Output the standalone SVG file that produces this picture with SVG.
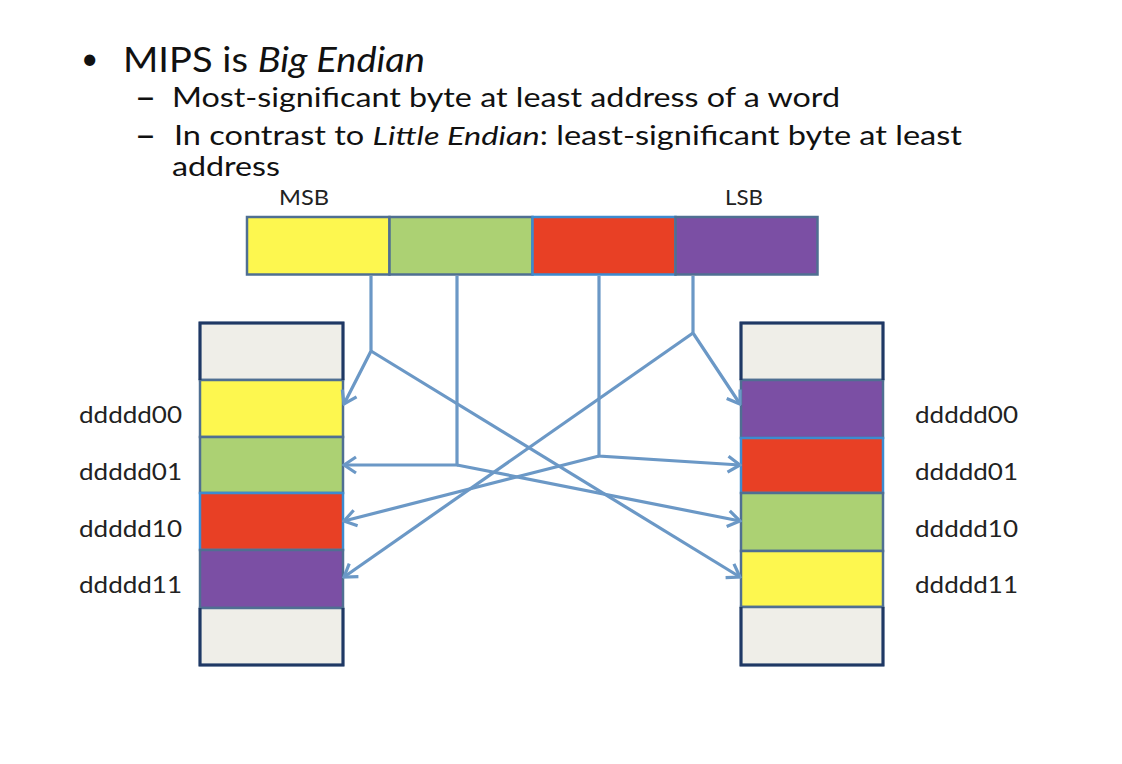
<svg xmlns="http://www.w3.org/2000/svg" width="1122" height="764" viewBox="0 0 1122 764">
<defs>
<style>
.t{font-family:Lato,"Open Sans","Liberation Sans",sans-serif;fill:#111;}
.h1{font-size:35px;}
.h2{font-size:26px;}
.lbl{font-size:24px;fill:#222;}
.sm{font-size:22px;fill:#222;}
.y{fill:#fdf74f;}
.g{fill:#acd173;}
.r{fill:#e84025;}
.p{fill:#7b4fa4;}
.e{fill:#efeee8;}
.cell{stroke:#4f6f92;stroke-width:2.5;}
.col{fill:none;stroke:#1f3864;stroke-width:3;}
.con{fill:none;stroke:#6b98c6;stroke-width:3.2;stroke-linejoin:miter;}
</style>
<marker id="arr" markerUnits="userSpaceOnUse" markerWidth="16" markerHeight="20" viewBox="0 0 16 20" refX="14" refY="10" orient="auto">
<path d="M2,2 L14,10 L2,18" fill="none" stroke="#6b98c6" stroke-width="3.2"/>
</marker>
</defs>
<rect width="1122" height="764" fill="#fff"/>

<g id="title">
<text class="t" x="81" y="69" font-size="30">•</text>
<text class="t h1" x="123" y="72" textLength="302" lengthAdjust="spacingAndGlyphs">MIPS is <tspan font-style="italic">Big Endian</tspan></text>
<text class="t h2" x="135" y="107" font-weight="900" textLength="21" lengthAdjust="spacingAndGlyphs">–</text>
<text class="t h2" x="172" y="107" textLength="668" lengthAdjust="spacingAndGlyphs">Most-significant byte at least address of a word</text>
<text class="t h2" x="135" y="145" font-weight="900" textLength="21" lengthAdjust="spacingAndGlyphs">–</text>
<text class="t h2" x="174" y="145" textLength="788" lengthAdjust="spacingAndGlyphs">In contrast to <tspan font-style="italic">Little Endian</tspan>: least-significant byte at least</text>
<text class="t h2" x="172" y="176" textLength="108" lengthAdjust="spacingAndGlyphs">address</text>
</g>

<g id="word">
<rect class="cell y" x="247" y="217" width="142.5" height="57.5"/>
<rect class="cell g" x="389.5" y="217" width="143" height="57.5"/>
<rect class="r" x="532.5" y="217" width="143" height="57.5" stroke="#3d8bd0" stroke-width="2.5"/>
<rect class="cell p" x="675.5" y="217" width="142" height="57.5"/>
<text class="t sm" x="279" y="205" textLength="50" lengthAdjust="spacingAndGlyphs">MSB</text>
<text class="t sm" x="725" y="205" textLength="38" lengthAdjust="spacingAndGlyphs">LSB</text>
</g>

<g id="bigEndianMemory">
<rect class="cell e" x="200" y="323" width="143" height="57"/>
<rect class="cell y" x="200" y="380" width="143" height="57"/>
<rect class="cell g" x="200" y="437" width="143" height="56"/>
<rect class="r" x="200" y="493" width="143" height="57" stroke="#3d8bd0" stroke-width="2.5"/>
<rect class="cell p" x="200" y="550" width="143" height="58"/>
<rect class="cell e" x="200" y="608" width="143" height="57"/>
<path class="col" d="M200,380 V323 H343 V380 M200,608 V665 H343 V608"/>
<text class="t lbl" x="79" y="423" textLength="103" lengthAdjust="spacingAndGlyphs">ddddd00</text>
<text class="t lbl" x="79" y="480" textLength="103" lengthAdjust="spacingAndGlyphs">ddddd01</text>
<text class="t lbl" x="79" y="537" textLength="103" lengthAdjust="spacingAndGlyphs">ddddd10</text>
<text class="t lbl" x="79" y="593" textLength="103" lengthAdjust="spacingAndGlyphs">ddddd11</text>
</g>

<g id="littleEndianMemory">
<rect class="cell e" x="741" y="323" width="142" height="57"/>
<rect class="cell p" x="741" y="380" width="142" height="58"/>
<rect class="r" x="741" y="438" width="142" height="55" stroke="#3d8bd0" stroke-width="2.5"/>
<rect class="cell g" x="741" y="493" width="142" height="58"/>
<rect class="cell y" x="741" y="551" width="142" height="56"/>
<rect class="cell e" x="741" y="607" width="142" height="58"/>
<path class="col" d="M741,380 V323 H883 V380 M741,607 V665 H883 V607"/>
<text class="t lbl" x="915" y="423" textLength="103" lengthAdjust="spacingAndGlyphs">ddddd00</text>
<text class="t lbl" x="915" y="480" textLength="103" lengthAdjust="spacingAndGlyphs">ddddd01</text>
<text class="t lbl" x="915" y="537" textLength="103" lengthAdjust="spacingAndGlyphs">ddddd10</text>
<text class="t lbl" x="915" y="593" textLength="103" lengthAdjust="spacingAndGlyphs">ddddd11</text>
</g>

<g id="connectors">
<path class="con" d="M371,276 V351 L344,404" marker-end="url(#arr)"/>
<path class="con" d="M371,351 L740,577" marker-end="url(#arr)"/>
<path class="con" d="M457,276 V465 H344" marker-end="url(#arr)"/>
<path class="con" d="M457,465 L740,521" marker-end="url(#arr)"/>
<path class="con" d="M599,276 V456 L740,465" marker-end="url(#arr)"/>
<path class="con" d="M599,456 L344,521" marker-end="url(#arr)"/>
<path class="con" d="M693,276 V333 L740,404" marker-end="url(#arr)"/>
<path class="con" d="M693,333 L344,577" marker-end="url(#arr)"/>
</g>
</svg>
